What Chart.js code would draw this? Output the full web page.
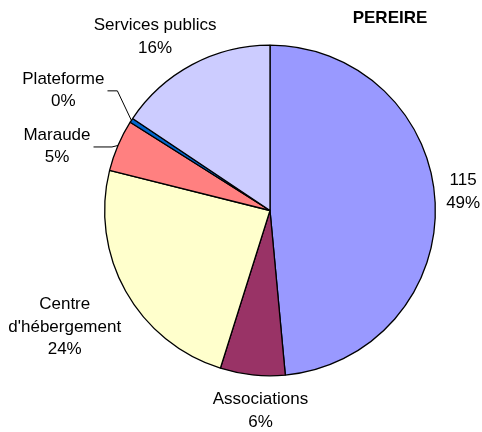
<!DOCTYPE html>
<html>
<head>
<meta charset="utf-8">
<script src="https://cdn.jsdelivr.net/npm/chart.js@4"></script>
<style>
  html, body { margin: 0; padding: 0; background: #fff; }
  #wrap { width: 482px; height: 432px; position: relative; }
</style>
</head>
<body>
<div id="wrap"><canvas id="c" width="482" height="432"></canvas></div>
<script>
// ---- data ----
const title = 'PEREIRE';
const categories = ['', 'Associations', "Centre d'hébergement", 'Maraude', 'Plateforme', 'Services publics'];
const values = [115, 15, 57, 12, 1, 37];
const colors = ['#9999FF', '#993366', '#FFFFCC', '#FF8080', '#0066CC', '#CCCCFF'];

// label placement relative to the slice's outer edge at its mid angle
const labelOffsets = [[28, -11], [8, 36], [-61, 36], [-61, 1], [-68, -30], [-37, -28]];
const leaderKinks = { 3: -6, 4: -14 }; // slices with leader lines (x shift of kink from edge point)

const FONT = '17px "Liberation Sans", Arial, sans-serif';
const LINE_H = 22.5;

const total = values.reduce((a, b) => a + b, 0);

function wrapLines(ctx, text, maxW) {
  if (!text) return [];
  if (ctx.measureText(text).width <= maxW) return [text];
  const words = text.split(' ');
  const out = [];
  let cur = '';
  for (const w of words) {
    const t = cur ? cur + ' ' + w : w;
    if (cur && ctx.measureText(t).width > maxW) { out.push(cur); cur = w; }
    else cur = t;
  }
  if (cur) out.push(cur);
  return out;
}

const labelPlugin = {
  id: 'sliceLabels',
  afterDatasetsDraw(chart) {
    const ctx = chart.ctx;
    const meta = chart.getDatasetMeta(0);
    ctx.save();
    ctx.font = FONT;
    ctx.fillStyle = '#000';
    ctx.textAlign = 'center';
    ctx.textBaseline = 'middle';
    meta.data.forEach((arc, i) => {
      const p = arc.getProps(['x', 'y', 'startAngle', 'endAngle', 'outerRadius'], true);
      const mid = (p.startAngle + p.endAngle) / 2;
      const ex = p.x + p.outerRadius * Math.cos(mid);
      const ey = p.y + p.outerRadius * Math.sin(mid);
      const cx = ex + labelOffsets[i][0];
      const cy = ey + labelOffsets[i][1];
      const pct = Math.round(values[i] / total * 100) + '%';
      let lines = wrapLines(ctx, categories[i], 140);
      if (lines.length === 0) lines = [String(values[i])];
      lines.push(pct);
      const maxW = Math.max(...lines.map(l => ctx.measureText(l).width));
      if (leaderKinks[i] !== undefined) {
        ctx.beginPath();
        ctx.strokeStyle = '#000';
        ctx.lineWidth = 1;
        ctx.moveTo(ex, ey);
        ctx.lineTo(ex + leaderKinks[i], cy + 0.5);
        ctx.lineTo(cx + maxW / 2 + 3, cy + 0.5);
        ctx.stroke();
      }
      const top = cy - (lines.length - 1) * LINE_H / 2;
      lines.forEach((l, k) => ctx.fillText(l, cx, top + k * LINE_H));
    });
    // title
    ctx.font = 'bold 17px "Liberation Sans", Arial, sans-serif';
    ctx.fillText(title, 390, 18);
    ctx.restore();
  }
};

new Chart(document.getElementById('c'), {
  type: 'pie',
  data: {
    labels: categories,
    datasets: [{
      data: values,
      backgroundColor: colors,
      borderColor: '#000',
      borderWidth: 1.3
    }]
  },
  options: {
    responsive: false,
    animation: false,
    layout: { padding: { left: 104, right: 46, top: 44, bottom: 55 } },
    plugins: {
      legend: { display: false },
      tooltip: { enabled: false },
      title: { display: false }
    }
  },
  plugins: [labelPlugin]
});
</script>
</body>
</html>
